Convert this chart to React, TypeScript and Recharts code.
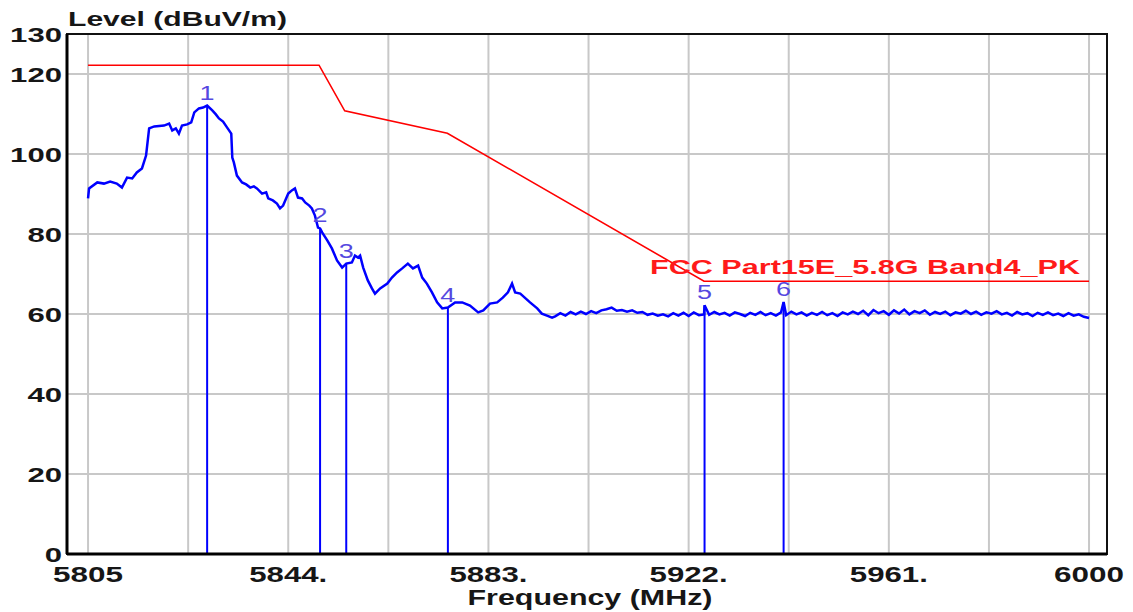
import React from "react";
import {
  ComposedChart,
  Line,
  Scatter,
  XAxis,
  YAxis,
  CartesianGrid,
  ReferenceLine,
  ReferenceArea,
  LabelList,
} from "recharts";

// measured trace (MHz / dBuV/m)
const traceFreq = [
  5805.0, 5805.2, 5806.8, 5808.1, 5809.3, 5810.6, 5811.6, 5812.6, 5813.6, 5814.5,
  5815.5, 5816.3, 5816.9, 5817.9, 5819.8, 5820.8, 5821.4, 5822.1, 5822.7, 5823.3,
  5824.3, 5825.1, 5825.7, 5826.6, 5827.4, 5828.2, 5829.2, 5829.9, 5830.5, 5831.3,
  5832.1, 5832.9, 5833.1, 5833.4, 5834.0, 5835.0, 5835.8, 5836.6, 5837.3, 5837.9,
  5838.9, 5839.7, 5840.1, 5841.0, 5841.8, 5842.4, 5843.0, 5844.0, 5844.7, 5845.3,
  5845.9, 5846.7, 5847.3, 5848.1, 5848.6, 5849.2, 5849.8, 5850.2, 5850.6, 5851.6,
  5852.5, 5853.5, 5854.5, 5855.3, 5856.4, 5857.0, 5857.6, 5858.0, 5858.6, 5859.5,
  5860.3, 5860.9, 5861.9, 5863.3, 5864.2, 5865.2, 5866.2, 5867.3, 5868.3, 5869.3,
  5870.1, 5871.0, 5872.0, 5873.0, 5874.0, 5875.1, 5876.5, 5877.9, 5879.4, 5881.0,
  5882.0, 5883.3, 5884.7, 5885.8, 5886.8, 5887.6, 5888.2, 5889.2, 5891.1, 5892.5,
  5893.4, 5894.4, 5895.4,
  5896, 5897, 5898, 5899, 5900, 5901, 5902, 5903, 5904, 5905,
  5906, 5907, 5908, 5909, 5910, 5911, 5912, 5913, 5914, 5915,
  5916, 5917, 5918, 5919, 5920, 5921, 5922, 5923, 5924, 5925,
  5925.1, 5926, 5927, 5928, 5929, 5930, 5931, 5932, 5933, 5934,
  5935, 5936, 5937, 5938, 5939, 5940, 5940.5, 5941, 5942, 5943,
  5944, 5945, 5946, 5947, 5948, 5949, 5950, 5951, 5952, 5953,
  5954, 5955, 5956, 5957, 5958, 5959, 5960, 5961, 5962, 5963,
  5964, 5965, 5966, 5967, 5968, 5969, 5970, 5971, 5972, 5973,
  5974, 5975, 5976, 5977, 5978, 5979, 5980, 5981, 5982, 5983,
  5984, 5985, 5986, 5987, 5988, 5989, 5990, 5991, 5992, 5993,
  5994, 5995, 5996, 5997, 5998, 5999, 6000,
];
const traceLevel = [
  88.9, 91.4, 92.9, 92.6, 93.1, 92.6, 91.6, 94.1, 93.9, 95.4,
  96.4, 99.6, 106.4, 106.9, 107.1, 107.6, 105.9, 106.4, 105.1, 107.1,
  107.4, 107.9, 110.4, 111.4, 111.6, 112.1, 110.9, 109.9, 108.9, 108.1,
  106.6, 105.1, 99.1, 97.9, 94.6, 92.9, 92.4, 91.6, 91.9, 91.4,
  90.1, 90.4, 88.9, 88.4, 87.6, 86.4, 87.1, 90.1, 90.9, 91.4,
  89.1, 88.9, 87.9, 87.1, 86.4, 84.6, 81.6, 81.4, 80.4, 78.4,
  76.4, 73.4, 71.6, 72.6, 72.9, 74.6, 74.1, 74.6, 71.6, 68.4,
  66.4, 65.1, 66.4, 67.6, 69.1, 70.4, 71.4, 72.6, 71.4, 72.1,
  69.1, 67.6, 65.4, 62.9, 61.4, 61.6, 62.9, 62.9, 62.1, 60.4,
  60.9, 62.6, 62.9, 64.1, 65.4, 67.6, 65.4, 65.1, 62.9, 61.4,
  60.1, 59.6, 59.1,
  59.4, 60.2, 59.6, 60.5, 59.9, 60.6, 60.0, 60.7, 60.2, 60.9,
  61.2, 61.6, 60.8, 61.0, 60.6, 60.9, 60.3, 60.5, 59.8, 60.1,
  59.6, 59.9, 59.4, 60.2, 59.6, 60.3, 59.5, 60.4, 59.7, 59.9,
  62.2, 59.8, 60.5, 59.9, 60.3, 59.6, 60.4, 60.0, 59.5, 60.3,
  59.8, 60.5, 59.7, 60.2, 59.6, 60.4, 63.0, 59.7, 60.6, 59.9,
  60.4, 59.6, 60.3, 59.8, 60.5, 59.7, 60.2, 59.5, 60.4, 59.9,
  60.6, 60.0, 60.8, 59.7, 61.0, 60.2, 60.7, 59.8, 60.9, 60.1,
  61.1, 59.9, 60.7, 60.2, 60.9, 59.8, 60.5, 60.0, 60.6, 59.7,
  60.4, 60.1, 60.8, 60.0, 60.6, 59.8, 60.4, 60.1, 60.7, 59.9,
  60.3, 59.6, 60.5, 59.9, 60.2, 59.5, 60.3, 59.8, 60.4, 59.7,
  60.1, 59.5, 60.2, 59.6, 59.9, 59.3, 59.0,
];

// FCC limit line
const limitFreq = [5805, 5850, 5855, 5875, 5925, 6000];
const limitLevel = [122.2, 122.2, 110.8, 105.2, 68.2, 68.2];
const limitName = "FCC Part15E_5.8G Band4_PK";

// markers
const markerNo = ["1", "2", "3", "4", "5", "6"];
const markerFreq = [5828.2, 5850.2, 5855.3, 5875.1, 5925.1, 5940.5];
const markerLevel = [112.1, 81.4, 72.6, 61.6, 62.2, 63.0];

const xTicks = [5805, 5824.5, 5844, 5863.5, 5883, 5902.5, 5922, 5941.5, 5961, 5980.5, 6000];
const xTickLabels = ["5805", "", "5844.", "", "5883.", "", "5922.", "", "5961.", "", "6000"];
const yTicks = [0, 20, 40, 60, 80, 100, 120, 130];

const trace = traceFreq.map((f, i) => ({ freq: f, level: traceLevel[i] }));
const limit = limitFreq.map((f, i) => ({ freq: f, level: limitLevel[i] }));
const markers = markerFreq.map((f, i) => ({ freq: f, level: markerLevel[i], no: markerNo[i] }));

const FONT = "'Liberation Sans', Arial, sans-serif";
const INK = "#161616";

// the original picture is horizontally stretched, so stretch the glyphs too
const wide = (s: string, digit: number, dot: number) =>
  s.split("").reduce((w, c) => w + (c === "." ? dot : digit), 0);

const XTick = (props: any) => {
  const { x, y, payload } = props;
  const label = xTickLabels[xTicks.indexOf(payload.value)];
  if (!label) return null;
  return (
    <text
      x={x}
      y={y + 28}
      textAnchor="middle"
      fontFamily={FONT}
      fontWeight="bold"
      fontSize={22}
      fill={INK}
      textLength={wide(label, 17.5, 8)}
      lengthAdjust="spacingAndGlyphs"
    >
      {label}
    </text>
  );
};

const YTick = (props: any) => {
  const { x, y, payload } = props;
  const label = String(payload.value);
  return (
    <text
      x={x}
      y={y + 8}
      textAnchor="end"
      fontFamily={FONT}
      fontWeight="bold"
      fontSize={21}
      fill={INK}
      textLength={wide(label, 17.3, 8)}
      lengthAdjust="spacingAndGlyphs"
    >
      {label}
    </text>
  );
};

const MarkerText = (props: any) => {
  const { cx, cy, payload } = props;
  return (
    <text
      x={cx}
      y={cy - 6}
      textAnchor="middle"
      fontFamily={FONT}
      fontSize={20}
      fill="#5548e0"
      textLength={15}
      lengthAdjust="spacingAndGlyphs"
    >
      {payload.no}
    </text>
  );
};

const LimitLabel = (props: any) => {
  const { x, y, index } = props;
  if (index !== limit.length - 1) return null;
  return (
    <text
      x={x - 9}
      y={y - 7}
      textAnchor="end"
      fontFamily={FONT}
      fontWeight="bold"
      fontSize={21}
      fill="#ff1a1a"
      textLength={430}
      lengthAdjust="spacingAndGlyphs"
    >
      {limitName}
    </text>
  );
};

const X_MIN = 5800.9;
const X_MAX = 6003.5;

export default function App() {
  return (
    <div style={{ width: 1125, height: 604, position: "relative", background: "#fff" }}>
      <ComposedChart width={1125} height={604} margin={{ top: 26, right: 26, left: 0, bottom: 0 }}>
        <CartesianGrid stroke="#c8c8c8" strokeWidth={2} />
        <XAxis
          type="number"
          dataKey="freq"
          domain={[X_MIN, X_MAX]}
          ticks={xTicks}
          interval={0}
          allowDataOverflow
          tick={XTick}
          tickLine={false}
          tickSize={0}
          tickMargin={0}
          height={58}
          axisLine={{ stroke: "#000", strokeWidth: 3 }}
        />
        <YAxis
          type="number"
          domain={[0, 130]}
          ticks={yTicks}
          interval={0}
          allowDataOverflow
          tick={YTick}
          tickLine={false}
          tickSize={0}
          tickMargin={5}
          width={59}
          axisLine={{ stroke: "#000", strokeWidth: 3 }}
        />
        <ReferenceArea
          x1={X_MIN}
          x2={X_MAX}
          y1={0}
          y2={130}
          fill="none"
          fillOpacity={0}
          stroke="#111"
          strokeWidth={2}
          ifOverflow="visible"
        />
        {markers.map((m) => (
          <ReferenceLine
            key={m.no}
            segment={[
              { x: m.freq, y: 0 },
              { x: m.freq, y: m.level },
            ]}
            stroke="#0000ff"
            strokeWidth={2}
            ifOverflow="visible"
          />
        ))}
        <Line
          data={limit}
          dataKey="level"
          stroke="#ff0000"
          strokeWidth={1.6}
          dot={false}
          isAnimationActive={false}
          type="linear"
        >
          <LabelList dataKey="level" content={LimitLabel} />
        </Line>
        <Line
          data={trace}
          dataKey="level"
          stroke="#0000ff"
          strokeWidth={2.5}
          dot={false}
          isAnimationActive={false}
          type="linear"
        />
        <Scatter data={markers} dataKey="level" shape={MarkerText} isAnimationActive={false} />
        <text
          x={60}
          y={18}
          fontFamily={FONT}
          fontWeight="bold"
          fontSize={21}
          fill={INK}
          textLength={219}
          lengthAdjust="spacingAndGlyphs"
        >
          Level (dBuV/m)
        </text>
        <text
          x={582}
          y={597}
          textAnchor="middle"
          fontFamily={FONT}
          fontWeight="bold"
          fontSize={22}
          fill={INK}
          textLength={245}
          lengthAdjust="spacingAndGlyphs"
        >
          Frequency (MHz)
        </text>
      </ComposedChart>
    </div>
  );
}
